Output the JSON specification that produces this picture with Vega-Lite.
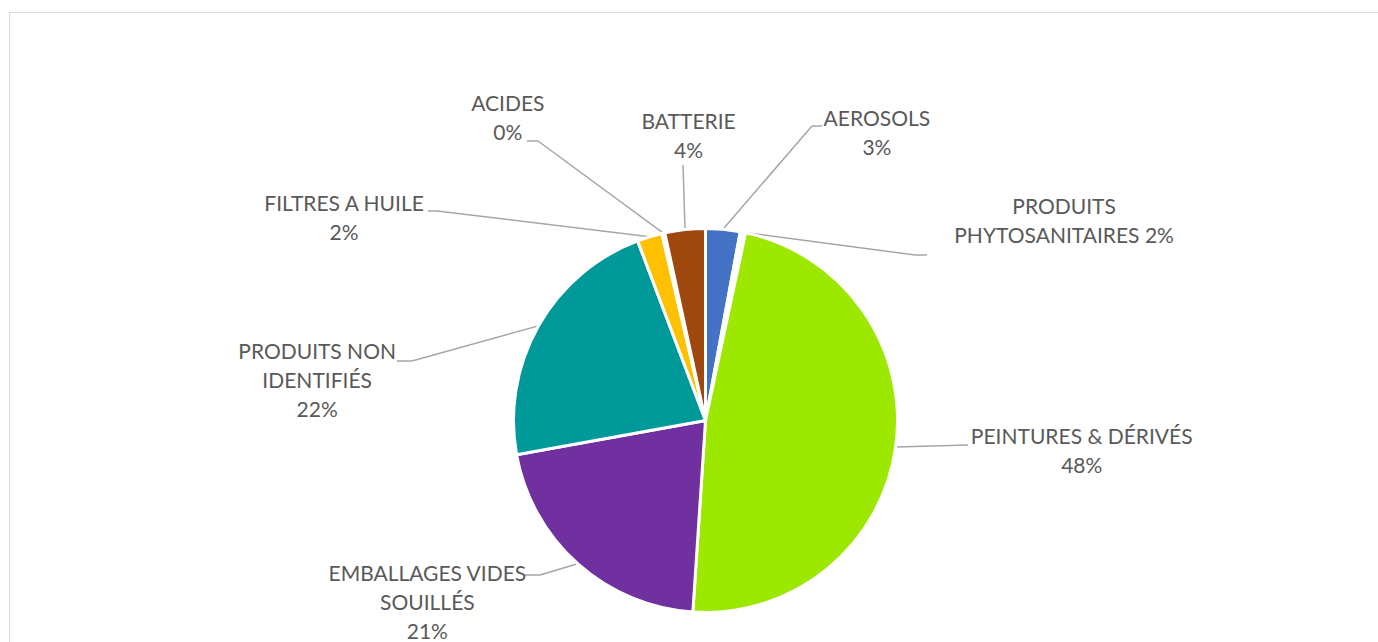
{
  "$schema": "https://vega.github.io/schema/vega-lite/v6.json",
  "width": 1369,
  "height": 630,
  "autosize": {"type": "none"},
  "padding": {"left": 9, "top": 12, "right": 0, "bottom": 0},
  "background": "white",
  "view": {"stroke": "#d9d9d9", "strokeWidth": 1},
  "data": {
    "values": [
      {"order": 1, "category": "AEROSOLS", "value": 2.9, "label": "AEROSOLS\n3%"},
      {"order": 2, "category": "PRODUITS PHYTOSANITAIRES", "value": 0.45, "label": "PRODUITS\nPHYTOSANITAIRES 2%"},
      {"order": 3, "category": "PEINTURES & DÉRIVÉS", "value": 47.7, "label": "PEINTURES & DÉRIVÉS\n48%"},
      {"order": 4, "category": "EMBALLAGES VIDES SOUILLÉS", "value": 21.1, "label": "EMBALLAGES VIDES\nSOUILLÉS\n21%"},
      {"order": 5, "category": "PRODUITS NON IDENTIFIÉS", "value": 22.1, "label": "PRODUITS NON\nIDENTIFIÉS\n22%"},
      {"order": 6, "category": "FILTRES A HUILE", "value": 2.1, "label": "FILTRES A HUILE\n2%"},
      {"order": 7, "category": "ACIDES", "value": 0.25, "label": "ACIDES\n0%"},
      {"order": 8, "category": "BATTERIE", "value": 3.4, "label": "BATTERIE\n4%"}
    ]
  },
  "layer": [
    {
      "transform": [
        {"joinaggregate": [{"op": "sum", "field": "value", "as": "total"}]},
        {"stack": "value", "groupby": [], "sort": [{"field": "order", "order": "ascending"}], "as": ["v0", "v1"]}
      ],
      "mark": {"type": "rule", "stroke": "#a6a6a6", "strokeWidth": 1.5},
      "encoding": {
        "x": {"value": {"expr": "width/2 + 12 + 192*sin(PI*(datum.v0 + datum.v1)/datum.total)"}},
        "y": {"value": {"expr": "height/2 + 93.5 - 192*cos(PI*(datum.v0 + datum.v1)/datum.total)"}},
        "x2": {"value": {"expr": "[0, 803, 906, 959, 531, 403, 428, 529, 674][datum.order]"}},
        "y2": {"value": {"expr": "[0, 114, 243, 433, 563, 349, 199, 129, 153][datum.order]"}}
      }
    },
    {
      "mark": {"type": "rule", "stroke": "#a6a6a6", "strokeWidth": 1.5},
      "encoding": {
        "x": {"value": {"expr": "[0, 803, 906, 959, 531, 403, 428, 529, 674][datum.order]"}},
        "y": {"value": {"expr": "[0, 114, 243, 433, 563, 349, 199, 129, 153][datum.order]"}},
        "x2": {"value": {"expr": "[0, 813, 918, 959, 516, 388, 419, 518, 674][datum.order]"}},
        "y2": {"value": {"expr": "[0, 114, 243, 433, 563, 349, 199, 129, 153][datum.order]"}}
      }
    },
    {
      "mark": {
        "type": "arc",
        "outerRadius": 192,
        "stroke": "white",
        "strokeWidth": 3,
        "x": {"expr": "width/2 + 12"},
        "y": {"expr": "height/2 + 93.5"}
      },
      "encoding": {
        "theta": {"field": "value", "type": "quantitative", "stack": true},
        "order": {"field": "order", "type": "quantitative"},
        "color": {
          "field": "category",
          "type": "nominal",
          "legend": null,
          "scale": {
            "domain": ["AEROSOLS", "PRODUITS PHYTOSANITAIRES", "PEINTURES & DÉRIVÉS", "EMBALLAGES VIDES SOUILLÉS", "PRODUITS NON IDENTIFIÉS", "FILTRES A HUILE", "ACIDES", "BATTERIE"],
            "range": ["#4472C4", "#FFFFFF", "#9DE800", "#7030A0", "#009999", "#FFC000", "#FFFFFF", "#9E480E"]
          }
        }
      }
    },
    {
      "mark": {
        "type": "text",
        "radius": 290,
        "x": {"expr": "width/2 + 12"},
        "y": {"expr": "height/2 + 93.5"},
        "font": "Lato",
        "fontSize": 21,
        "fill": "#595959",
        "lineBreak": "\n",
        "lineHeight": 29,
        "align": "center",
        "baseline": "middle",
        "dx": {"expr": "datum.order == 1 ? 145 : datum.order == 2 ? 302 : datum.order == 3 ? 89 : datum.order == 4 ? -85 : datum.order == 5 ? -136 : datum.order == 6 ? -277 : datum.order == 7 ? -134 : 14"},
        "dy": {"expr": "datum.order == 1 ? -11.5 : datum.order == 2 ? 71.5 : datum.order == 3 ? -22.5 : datum.order == 4 ? -62 : datum.order == 5 ? 75 : datum.order == 6 ? 61.5 : datum.order == 7 ? -32.5 : -9.5"}
      },
      "encoding": {
        "theta": {"field": "value", "type": "quantitative", "stack": true},
        "order": {"field": "order", "type": "quantitative"},
        "text": {"field": "label", "type": "nominal"}
      }
    }
  ]
}
